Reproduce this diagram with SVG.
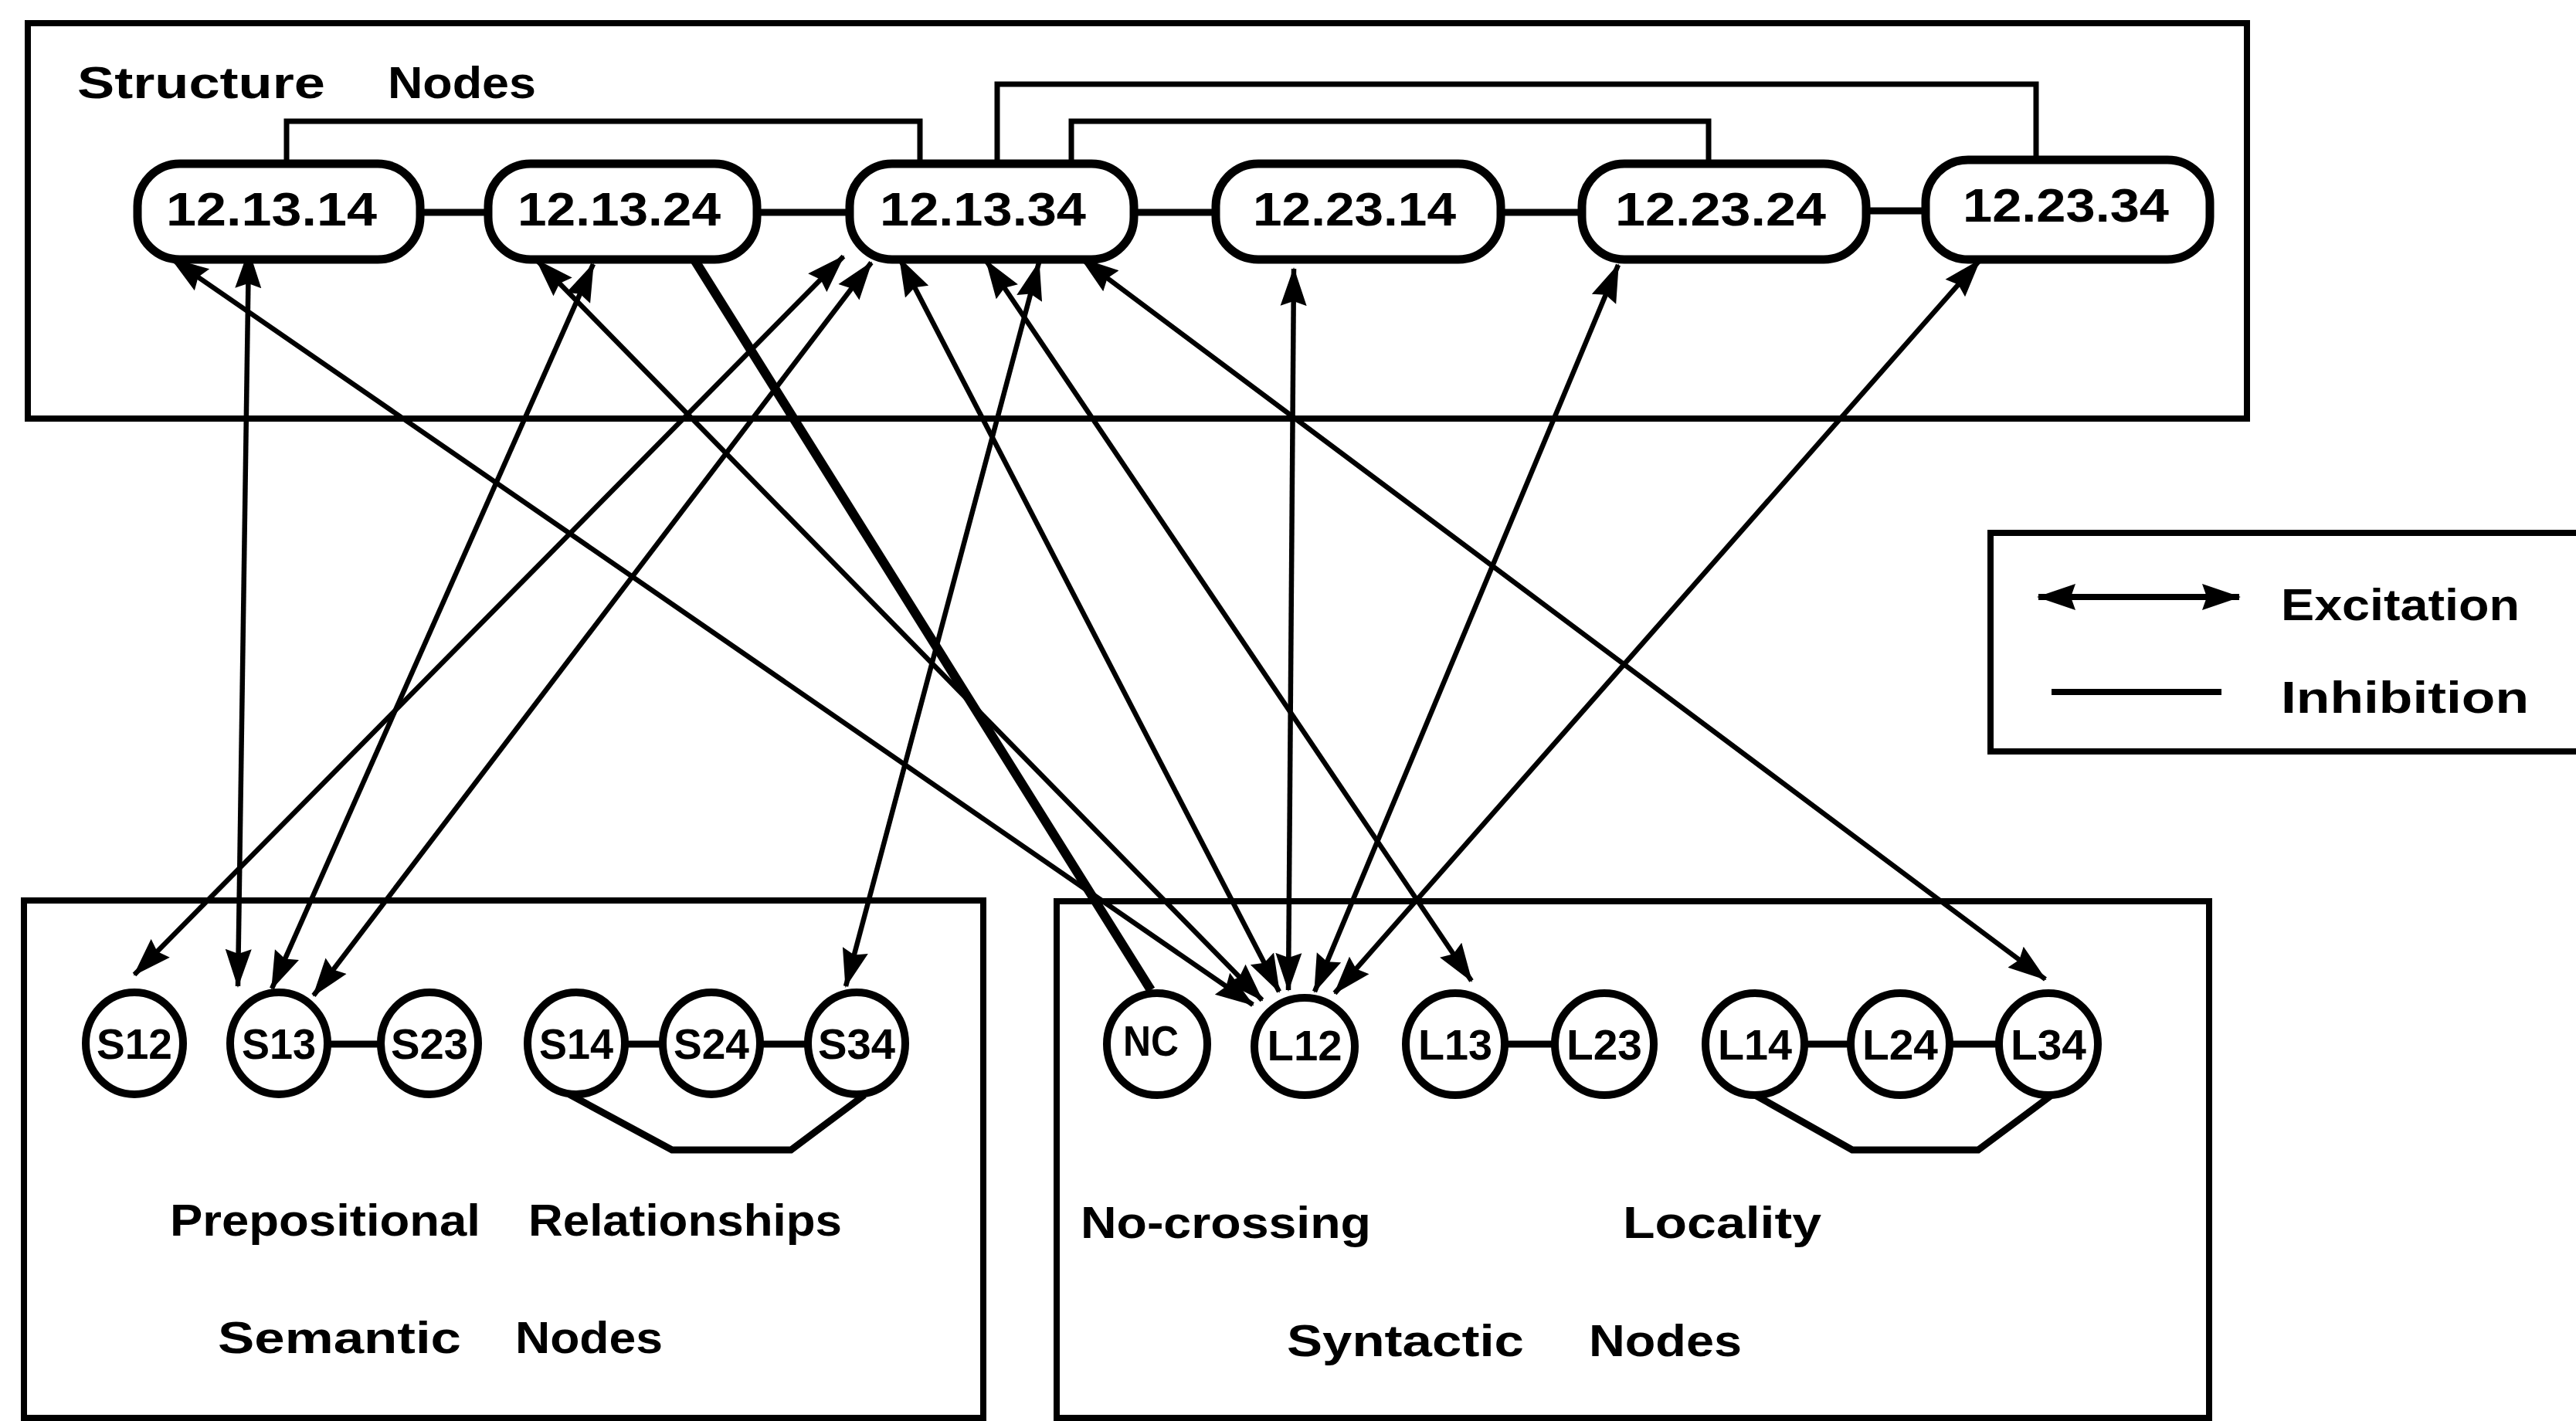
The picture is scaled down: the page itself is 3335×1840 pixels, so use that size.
<svg xmlns="http://www.w3.org/2000/svg" width="3335" height="1840" viewBox="0 0 3335 1840">
<style>
  .box { fill: none; stroke: #000; stroke-width: 8; }
  .snode { fill: #fff; stroke: #000; stroke-width: 11; }
  .cnode { fill: #fff; stroke: #000; stroke-width: 10; }
  .lbl { font-family: "Liberation Sans", Arial, sans-serif; font-weight: bold; fill: #000; }
  .nl { font-size: 62px; }
  .cl { font-size: 56px; text-anchor: middle; }
  .tt { font-size: 57px; }
  .inh { fill: none; stroke: #000; stroke-width: 9; stroke-linejoin: miter; }
  .brk { fill: none; stroke: #000; stroke-width: 7; }
  .exc { fill: none; stroke: #000; stroke-width: 6.5; marker-start: url(#ah); marker-end: url(#ah); }
  .thick { fill: none; stroke: #000; stroke-width: 12; }
</style>
<defs>
  <marker id="ah" viewBox="0 0 50 36" refX="48" refY="18" markerWidth="50" markerHeight="36" markerUnits="userSpaceOnUse" orient="auto-start-reverse">
    <path d="M0,1 L50,18 L0,35 L6,18 z" fill="#000"/>
  </marker>
</defs>
<rect width="3335" height="1840" fill="#fff"/>

<!-- Frames -->
<g id="structure-frame">
  <rect class="box" x="36" y="30" width="2873" height="512"/>
  <text class="lbl tt" x="100" y="127" textLength="321" lengthAdjust="spacingAndGlyphs">Structure</text>
  <text class="lbl tt" x="502" y="127" textLength="192" lengthAdjust="spacingAndGlyphs">Nodes</text>
</g>
<g id="semantic-frame">
  <rect class="box" x="31" y="1166" width="1242" height="670"/>
  <text class="lbl tt" x="220" y="1600" textLength="402" lengthAdjust="spacingAndGlyphs">Prepositional</text>
  <text class="lbl tt" x="684" y="1600" textLength="406" lengthAdjust="spacingAndGlyphs">Relationships</text>
  <text class="lbl tt" x="282" y="1752" textLength="315" lengthAdjust="spacingAndGlyphs">Semantic</text>
  <text class="lbl tt" x="667" y="1752" textLength="191" lengthAdjust="spacingAndGlyphs">Nodes</text>
</g>
<g id="syntactic-frame">
  <rect class="box" x="1368" y="1167" width="1492" height="669"/>
  <text class="lbl tt" x="1399" y="1603" textLength="376" lengthAdjust="spacingAndGlyphs">No-crossing</text>
  <text class="lbl tt" x="2101" y="1603" textLength="257" lengthAdjust="spacingAndGlyphs">Locality</text>
  <text class="lbl tt" x="1666" y="1756" textLength="307" lengthAdjust="spacingAndGlyphs">Syntactic</text>
  <text class="lbl tt" x="2057" y="1756" textLength="198" lengthAdjust="spacingAndGlyphs">Nodes</text>
</g>
<g id="legend">
  <path class="box" d="M3340,690 H2577 V973 H3340"/>
  <line class="exc" x1="2639" y1="773" x2="2899" y2="773" style="stroke-width:8"/>
  <text class="lbl tt" x="2953" y="803" textLength="309" lengthAdjust="spacingAndGlyphs">Excitation</text>
  <line x1="2656" y1="896" x2="2876" y2="896" stroke="#000" stroke-width="8"/>
  <text class="lbl tt" x="2953" y="923" textLength="321" lengthAdjust="spacingAndGlyphs">Inhibition</text>
</g>

<!-- Connectors -->
<g id="connectors">
  <!-- inhibition between structure nodes -->
  <line class="inh" x1="544" y1="275" x2="632" y2="275"/>
  <line class="inh" x1="980" y1="275" x2="1100" y2="275"/>
  <line class="inh" x1="1468" y1="275" x2="1574" y2="275"/>
  <line class="inh" x1="1943" y1="275" x2="2048" y2="275"/>
  <line class="inh" x1="2416" y1="273" x2="2493" y2="273"/>
  <path class="brk" d="M371,212 V157 H1191 V212"/>
  <path class="brk" d="M1291,212 V109 H2636 V207"/>
  <path class="brk" d="M1387,212 V157 H2212 V212"/>
  <!-- inhibition among semantic nodes -->
  <line class="inh" x1="427" y1="1352" x2="490" y2="1352"/>
  <line class="inh" x1="812" y1="1352" x2="855" y2="1352"/>
  <line class="inh" x1="987" y1="1352" x2="1043" y2="1352"/>
  <path class="inh" d="M737,1417 L870,1489 L1024,1489 L1119,1418"/>
  <!-- inhibition among syntactic nodes -->
  <line class="inh" x1="1950" y1="1352" x2="2011" y2="1352"/>
  <line class="inh" x1="2338" y1="1352" x2="2394" y2="1352"/>
  <line class="inh" x1="2526" y1="1352" x2="2586" y2="1352"/>
  <path class="inh" d="M2274,1419 L2398,1489 L2561,1489 L2655,1419"/>
  <!-- NC thick link -->
  <line class="thick" x1="900" y1="338" x2="1490" y2="1282"/>
  <!-- excitation -->
  <line class="exc" x1="222" y1="335" x2="1622" y2="1301"/>
  <line class="exc" x1="322" y1="325" x2="308" y2="1277"/>
  <line class="exc" x1="695" y1="337" x2="1634" y2="1295"/>
  <line class="exc" x1="768" y1="342" x2="352" y2="1280"/>
  <line class="exc" x1="1092" y1="332" x2="174" y2="1262"/>
  <line class="exc" x1="1128" y1="340" x2="406" y2="1289"/>
  <line class="exc" x1="1165" y1="335" x2="1656" y2="1284"/>
  <line class="exc" x1="1277" y1="338" x2="1905" y2="1270"/>
  <line class="exc" x1="1345" y1="340" x2="1095" y2="1277"/>
  <line class="exc" x1="1400" y1="335" x2="2648" y2="1268"/>
  <line class="exc" x1="1675" y1="348" x2="1668" y2="1282"/>
  <line class="exc" x1="2095" y1="343" x2="1702" y2="1284"/>
  <line class="exc" x1="2563" y1="337" x2="1728" y2="1286"/>
</g>

<!-- Structure nodes -->
<g id="n-12-13-14"><rect class="snode" x="178" y="212" width="366" height="124" rx="55" ry="55"/><text class="lbl nl" x="215" y="292" textLength="273" lengthAdjust="spacingAndGlyphs">12.13.14</text></g>
<g id="n-12-13-24"><rect class="snode" x="632" y="212" width="348" height="124" rx="55" ry="55"/><text class="lbl nl" x="670" y="292" textLength="263" lengthAdjust="spacingAndGlyphs">12.13.24</text></g>
<g id="n-12-13-34"><rect class="snode" x="1100" y="212" width="368" height="124" rx="55" ry="55"/><text class="lbl nl" x="1139" y="292" textLength="267" lengthAdjust="spacingAndGlyphs">12.13.34</text></g>
<g id="n-12-23-14"><rect class="snode" x="1574" y="212" width="369" height="124" rx="55" ry="55"/><text class="lbl nl" x="1622" y="292" textLength="263" lengthAdjust="spacingAndGlyphs">12.23.14</text></g>
<g id="n-12-23-24"><rect class="snode" x="2048" y="212" width="368" height="124" rx="55" ry="55"/><text class="lbl nl" x="2091" y="292" textLength="273" lengthAdjust="spacingAndGlyphs">12.23.24</text></g>
<g id="n-12-23-34"><rect class="snode" x="2493" y="207" width="368" height="129" rx="55" ry="55"/><text class="lbl nl" x="2541" y="287" textLength="267" lengthAdjust="spacingAndGlyphs">12.23.34</text></g>

<!-- Semantic nodes -->
<g id="s12"><ellipse class="cnode" cx="174" cy="1351" rx="63" ry="66"/><text class="lbl cl" x="174" y="1371" textLength="98" lengthAdjust="spacingAndGlyphs">S12</text></g>
<g id="s13"><ellipse class="cnode" cx="361" cy="1351" rx="63" ry="66"/><text class="lbl cl" x="361" y="1371" textLength="96" lengthAdjust="spacingAndGlyphs">S13</text></g>
<g id="s23"><ellipse class="cnode" cx="556" cy="1351" rx="63" ry="66"/><text class="lbl cl" x="556" y="1371" textLength="100" lengthAdjust="spacingAndGlyphs">S23</text></g>
<g id="s14"><ellipse class="cnode" cx="746" cy="1351" rx="63" ry="66"/><text class="lbl cl" x="746" y="1371" textLength="96" lengthAdjust="spacingAndGlyphs">S14</text></g>
<g id="s24"><ellipse class="cnode" cx="921" cy="1351" rx="63" ry="66"/><text class="lbl cl" x="921" y="1371" textLength="98" lengthAdjust="spacingAndGlyphs">S24</text></g>
<g id="s34"><ellipse class="cnode" cx="1109" cy="1351" rx="63" ry="66"/><text class="lbl cl" x="1109" y="1371" textLength="100" lengthAdjust="spacingAndGlyphs">S34</text></g>

<!-- Syntactic nodes -->
<g id="nc"><ellipse class="cnode" cx="1498" cy="1352" rx="65" ry="66"/><text class="lbl cl" x="1490" y="1367" textLength="72" lengthAdjust="spacingAndGlyphs">NC</text></g>
<g id="l12"><ellipse class="cnode" cx="1689" cy="1355" rx="65" ry="63"/><text class="lbl cl" x="1689" y="1373" textLength="97" lengthAdjust="spacingAndGlyphs">L12</text></g>
<g id="l13"><ellipse class="cnode" cx="1884" cy="1352" rx="64" ry="66"/><text class="lbl cl" x="1884" y="1372" textLength="96" lengthAdjust="spacingAndGlyphs">L13</text></g>
<g id="l23"><ellipse class="cnode" cx="2077" cy="1352" rx="64" ry="66"/><text class="lbl cl" x="2077" y="1372" textLength="98" lengthAdjust="spacingAndGlyphs">L23</text></g>
<g id="l14"><ellipse class="cnode" cx="2272" cy="1352" rx="64" ry="66"/><text class="lbl cl" x="2272" y="1372" textLength="96" lengthAdjust="spacingAndGlyphs">L14</text></g>
<g id="l24"><ellipse class="cnode" cx="2460" cy="1352" rx="64" ry="66"/><text class="lbl cl" x="2460" y="1372" textLength="98" lengthAdjust="spacingAndGlyphs">L24</text></g>
<g id="l34"><ellipse class="cnode" cx="2652" cy="1352" rx="64" ry="66"/><text class="lbl cl" x="2652" y="1372" textLength="98" lengthAdjust="spacingAndGlyphs">L34</text></g>
</svg>
